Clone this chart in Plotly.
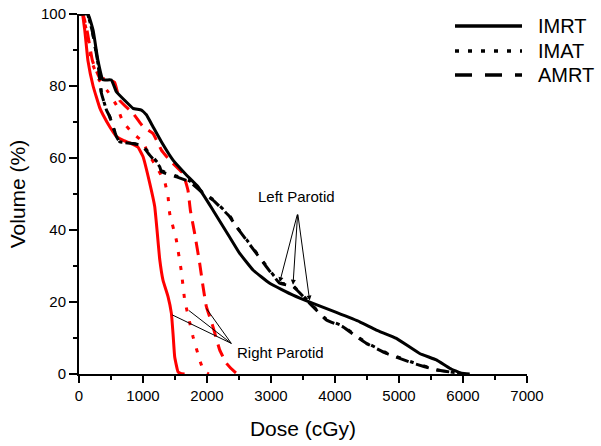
import plotly.graph_objects as go

# ---------------- data ----------------
techniques = ["IMRT", "IMAT", "AMRT"]

right_imrt_dose = [0, 50, 90, 140, 220, 323, 375, 480, 584, 700, 792, 922, 1000, 1105, 1183, 1219, 1260, 1313, 1391, 1443, 1470, 1495, 1547, 1600, 1650]
right_imrt_vol = [100, 100, 95.5, 87, 80, 74, 72, 68.7, 66, 64.8, 64.2, 63, 60.4, 53, 46.5, 40, 32, 26, 21.5, 16.9, 11, 4.8, 0.6, 0.1, 0]

right_imat_dose = [0, 50, 115, 193, 320, 453, 584, 687, 844, 1000, 1078, 1209, 1339, 1391, 1417, 1521, 1600, 1652, 1781, 1886, 1950, 2030]
right_imat_vol = [100, 100, 95.5, 87, 81.5, 78.4, 74.7, 70, 66.8, 64.5, 61.3, 57.6, 53.4, 49.3, 44.6, 37.2, 28.4, 20.5, 10.4, 3.9, 0.8, 0]

right_amrt_dose = [0, 60, 130, 210, 330, 428, 558, 636, 844, 1000, 1156, 1287, 1417, 1625, 1703, 1740, 1808, 1886, 1938, 1990, 2094, 2198, 2303, 2459, 2560]
right_amrt_vol = [100, 100, 95, 87, 82, 82, 81, 76, 72.4, 68.7, 66.8, 62.2, 59.4, 55.7, 51, 45.5, 39, 30.7, 24.3, 18.7, 13.1, 6.7, 3, 0.2, 0]

left_imrt_dose = [0, 140, 220, 297, 375, 506, 584, 714, 844, 975, 1053, 1156, 1287, 1469, 1678, 1860, 2094, 2355, 2511, 2719, 2980, 3344, 3656, 4021, 4386, 4646, 4959, 5323, 5584, 5792, 5975, 6105]
left_imrt_vol = [100, 100, 95.5, 87, 81.7, 81.7, 78.4, 76, 73.8, 73.3, 72, 68.7, 64.5, 59.4, 55.3, 52, 45.5, 38, 33.5, 28.9, 25.2, 21.9, 19.6, 17.1, 14.5, 12.2, 9.9, 5.7, 3.9, 1.6, 0.2, 0]

left_imat_dose = [0, 130, 210, 290, 325, 350, 400, 430, 480, 584, 636, 844, 975, 1105, 1261, 1287, 1521, 1730, 1938, 2094, 2355, 2459, 2615, 2928, 3136, 3344, 3656, 3865, 4125, 4334, 4490, 4803, 5219, 5584, 5948, 6000]
left_imat_vol = [100, 100, 95, 87, 82, 78, 75, 73.3, 71.5, 66, 64.5, 64, 63.6, 61.3, 58, 56.5, 55, 53.6, 50.4, 48.5, 43.9, 41, 37.4, 30, 25.4, 24.5, 18.9, 15.2, 13.3, 10.6, 8.7, 5.9, 3.2, 1.2, 0.2, 0]

left_amrt_dose = [0, 130, 210, 290, 325, 350, 400, 430, 480, 584, 636, 844, 975, 1105, 1261, 1287, 1521, 1730, 1938, 2094, 2355, 2459, 2615, 2928, 3136, 3344, 3656, 3865, 4125, 4334, 4490, 4803, 5219, 5584, 5948, 6000]
left_amrt_vol = [100, 100, 95, 87, 82, 78, 75, 73.3, 71.5, 66, 64.5, 64, 63.6, 60.8, 57.6, 56.2, 54.8, 53.4, 50.2, 48.3, 43.7, 40.9, 37.2, 29.8, 25.2, 24.3, 18.7, 15, 13.1, 10.4, 8.5, 5.7, 3, 1.1, 0.2, 0]

x_ticks = [0, 1000, 2000, 3000, 4000, 5000, 6000, 7000]
y_ticks = [0, 20, 40, 60, 80, 100]

# ---------------- styles ----------------
FONT = "Liberation Sans, Arial, sans-serif"
RED = "#ff0000"
BLACK = "#000000"
DASHES = {"IMRT": "solid", "IMAT": "4px,10px", "AMRT": "13px,8px"}
LEG_DASHES = {"IMRT": "solid", "IMAT": "4px,9px", "AMRT": "17px,13px"}

fig = go.Figure()

series = [
    ("Right IMRT", right_imrt_dose, right_imrt_vol, RED, "IMRT"),
    ("Right IMAT", right_imat_dose, right_imat_vol, RED, "IMAT"),
    ("Right AMRT", right_amrt_dose, right_amrt_vol, RED, "AMRT"),
    ("Left IMRT", left_imrt_dose, left_imrt_vol, BLACK, "IMRT"),
    ("Left IMAT", left_imat_dose, left_imat_vol, BLACK, "IMAT"),
    ("Left AMRT", left_amrt_dose, left_amrt_vol, BLACK, "AMRT"),
]
for name, xs, ys, col, tech in series:
    fig.add_trace(go.Scatter(
        x=xs, y=ys, mode="lines", name=name, showlegend=False,
        line=dict(color=col, width=3, dash=DASHES[tech], shape="spline", smoothing=0.3),
        cliponaxis=False, hoverinfo="skip",
    ))

# ---------------- layout ----------------
L, R, T, B, W, H = 79, 74, 14, 72, 601, 446
PW, PH = W - L - R, H - T - B


def px2paper(px, py):
    return (px - L) / PW, (H - B - py) / PH


shapes = []
annotations = []

# manual legend (black line styles)
leg_rows = [26, 51, 75]
for tech, py in zip(techniques, leg_rows):
    x0, y0 = px2paper(455, py)
    x1, _ = px2paper(522, py)
    shapes.append(dict(type="line", xref="paper", yref="paper", x0=x0, x1=x1, y0=y0, y1=y0,
                       line=dict(color=BLACK, width=3.5, dash=LEG_DASHES[tech])))
    tx, ty = px2paper(536, py)
    annotations.append(dict(xref="paper", yref="paper", x=tx, y=ty, text=tech, showarrow=False,
                            xanchor="left", yanchor="middle", font=dict(size=20, color=BLACK, family=FONT)))

# Left Parotid label with arrows
annotations.append(dict(x=3400, y=49.4, text="Left Parotid", showarrow=False,
                        font=dict(size=15, color=BLACK, family=FONT)))
for hx, hy in [(3136, 25.5), (3344, 24.8), (3604, 20.4)]:
    annotations.append(dict(x=hx, y=hy, ax=3417, ay=44.7, axref="x", ayref="y", text="",
                            showarrow=True, arrowhead=2, arrowsize=1, arrowwidth=1, arrowcolor=BLACK,
                            standoff=0, startstandoff=0))

# Right Parotid label with lines
annotations.append(dict(x=3155, y=6.1, text="Right Parotid", showarrow=False,
                        font=dict(size=15, color=BLACK, family=FONT)))
for hx, hy in [(1459, 16.4), (1719, 17.6), (1990, 18.2)]:
    shapes.append(dict(type="line", xref="x", yref="y", x0=2380, y0=8.5, x1=hx, y1=hy,
                       line=dict(color=BLACK, width=1)))

fig.update_layout(
    width=W, height=H,
    margin=dict(l=L, r=R, t=T, b=B, pad=0),
    paper_bgcolor="white", plot_bgcolor="white",
    font=dict(family=FONT, color=BLACK),
    shapes=shapes, annotations=annotations,
    showlegend=False,
)
fig.update_xaxes(
    range=[0, 7000], tickvals=x_ticks, ticktext=[str(v) for v in x_ticks],
    showline=True, linecolor=BLACK, linewidth=2, showgrid=False, zeroline=False,
    ticks="outside", ticklen=7, tickwidth=2, tickcolor=BLACK,
    minor=dict(ticks="outside", ticklen=4, tickwidth=2, tickcolor=BLACK, dtick=500, showgrid=False),
    tickfont=dict(size=15, color=BLACK, family=FONT),
    title=dict(text="Dose (cGy)", font=dict(size=21, color=BLACK, family=FONT), standoff=18),
    automargin=False,
)
fig.update_yaxes(
    range=[0, 100], tickvals=y_ticks, ticktext=[str(v) for v in y_ticks],
    showline=True, linecolor=BLACK, linewidth=2, showgrid=False, zeroline=False,
    ticks="outside", ticklen=8, tickwidth=2, tickcolor=BLACK,
    minor=dict(ticks="outside", ticklen=4, tickwidth=2, tickcolor=BLACK, dtick=10, showgrid=False),
    tickfont=dict(size=15, color=BLACK, family=FONT),
    title=dict(text="Volume (%)", font=dict(size=21, color=BLACK, family=FONT), standoff=10),
    automargin=False,
)

fig.write_html("out.html", config={"displayModeBar": False},
               post_script="document.body.style.margin='0px';")
